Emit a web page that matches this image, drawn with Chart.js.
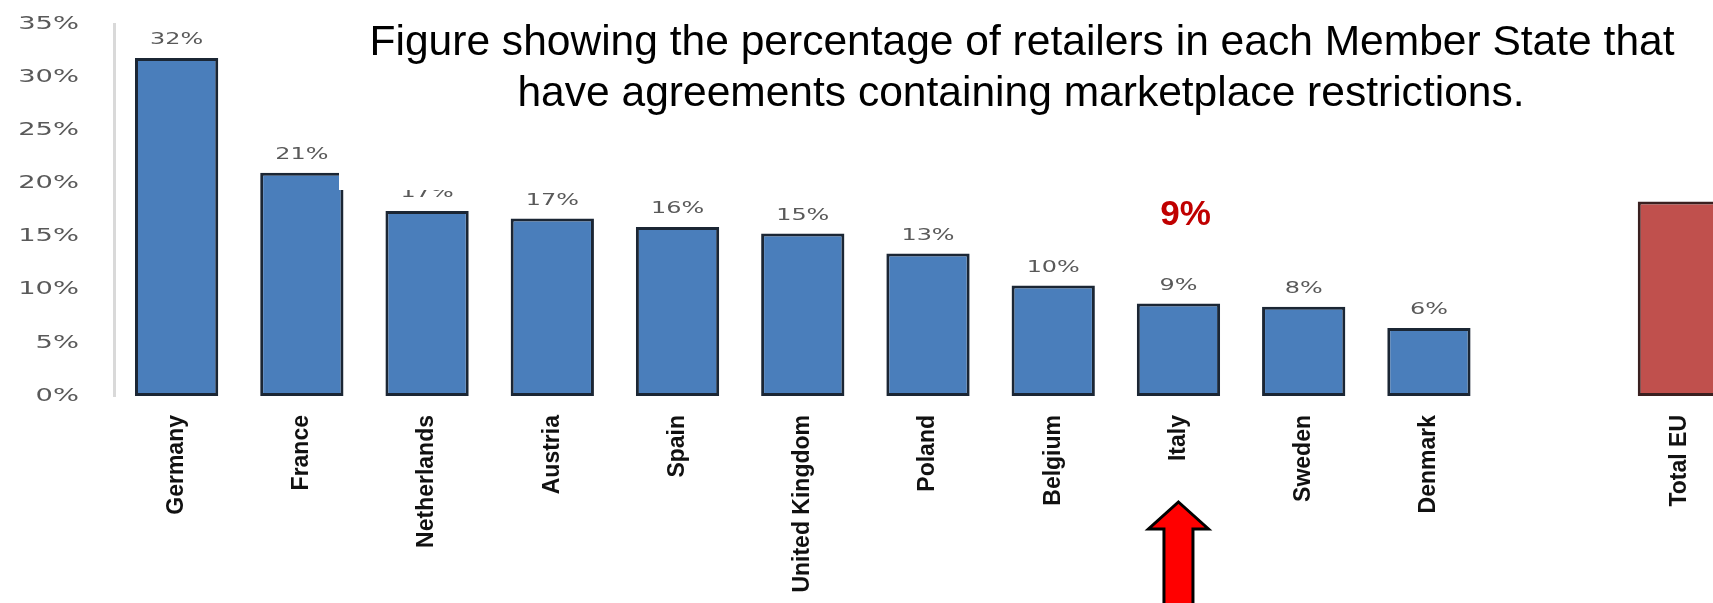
<!DOCTYPE html>
<html>
<head>
<meta charset="utf-8">
<script src="https://cdn.jsdelivr.net/npm/chart.js@4.4.1/dist/chart.umd.min.js"></script>
<style>
  html, body { margin: 0; padding: 0; background: #fff; overflow: hidden; }
  #wrap { position: relative; width: 1760px; height: 603px; }
</style>
</head>
<body>
<div id="wrap"><canvas id="retailChart"></canvas></div>
<script>
// member states, with an empty slot before the EU total
var countries = ['Germany', 'France', 'Netherlands', 'Austria', 'Spain', 'United Kingdom',
                 'Poland', 'Belgium', 'Italy', 'Sweden', 'Denmark', '', 'Total EU'];
// share of retailers with marketplace restrictions (%)
var shares = [31.8, 21.0, 17.4, 16.7, 15.9, 15.3, 13.4, 10.4, 8.7, 8.4, 6.4, null, 18.3];
var yTicks = [0, 5, 10, 15, 20, 25, 30, 35];
var titleLines = [
    'Figure showing the percentage of retailers in each Member State that',
    'have agreements containing marketplace restrictions.'
];
var highlighted = 'Italy';

var fills = countries.map(function (c) { return c === 'Total EU' ? '#c0504d' : '#4a7ebb'; });
var borders = countries.map(function (c) { return c === 'Total EU' ? '#3a2020' : '#1b2634'; });

function pct(v) { return Math.round(v) + '%'; }

// draws text squeezed/stretched along x
function wideText(ctx, text, x, y, sx) {
    ctx.save();
    ctx.translate(x, y);
    ctx.scale(sx, 1);
    ctx.fillText(text, 0, 0);
    ctx.restore();
}

var valueLabels = {
    id: 'valueLabels',
    afterDatasetsDraw: function (chart) {
        var ctx = chart.ctx;
        var meta = chart.getDatasetMeta(0);
        ctx.save();
        ctx.font = '16.5px "DejaVu Sans"';
        ctx.fillStyle = '#595959';
        ctx.textAlign = 'center';
        ctx.textBaseline = 'middle';
        meta.data.forEach(function (bar, i) {
            if (shares[i] == null) return;
            wideText(ctx, pct(shares[i]), bar.x, bar.y - 18, 1.45);
        });
        ctx.restore();
    }
};

var overlay = {
    id: 'overlay',
    afterDraw: function (chart) {
        var ctx = chart.ctx;
        var x = chart.scales.x, y = chart.scales.y, area = chart.chartArea;

        // y tick labels
        ctx.save();
        ctx.font = '18px "DejaVu Sans"';
        ctx.fillStyle = '#595959';
        ctx.textAlign = 'right';
        ctx.textBaseline = 'middle';
        y.ticks.forEach(function (t) {
            wideText(ctx, t.value + '%', area.left - 35, y.getPixelForValue(t.value), 1.52);
        });
        ctx.restore();

        // title box
        ctx.save();
        ctx.fillStyle = '#fff';
        ctx.fillRect(339, 0, 1366, 190);
        ctx.font = '42px "Liberation Sans", Arial, sans-serif';
        ctx.fillStyle = '#000';
        ctx.textAlign = 'center';
        ctx.textBaseline = 'alphabetic';
        var sx = 1305 / ctx.measureText(titleLines[0]).width;
        wideText(ctx, titleLines[0], 1022, 55, sx);
        wideText(ctx, titleLines[1], 1021, 106, sx);
        ctx.restore();

        // callout for the highlighted country
        var idx = countries.indexOf(highlighted);
        var cx = x.getPixelForValue(idx);
        ctx.save();
        ctx.font = 'bold 35px "Liberation Sans", Arial, sans-serif';
        ctx.fillStyle = '#c00000';
        ctx.textAlign = 'center';
        ctx.textBaseline = 'middle';
        ctx.fillText(pct(shares[idx]), cx + 7, y.getPixelForValue(17));

        var tip = area.bottom + 106;
        ctx.beginPath();
        ctx.moveTo(cx, tip);
        ctx.lineTo(cx + 30, tip + 27);
        ctx.lineTo(cx + 14.5, tip + 27);
        ctx.lineTo(cx + 14.5, chart.height + 10);
        ctx.lineTo(cx - 14.5, chart.height + 10);
        ctx.lineTo(cx - 14.5, tip + 27);
        ctx.lineTo(cx - 30, tip + 27);
        ctx.closePath();
        ctx.fillStyle = '#ff0000';
        ctx.fill();
        ctx.lineWidth = 3;
        ctx.strokeStyle = '#000';
        ctx.stroke();
        ctx.restore();
    }
};

var chart = new Chart(document.getElementById('retailChart'), {
    type: 'bar',
    data: {
        labels: countries,
        datasets: [{
            data: shares,
            backgroundColor: fills,
            borderColor: borders,
            borderWidth: 3,
            borderSkipped: false,
            barPercentage: 1,
            categoryPercentage: 0.665
        }]
    },
    options: {
        responsive: true,
        maintainAspectRatio: false,
        animation: false,
        layout: { padding: { top: 24, right: 18, left: 0, bottom: 0 } },
        plugins: {
            legend: { display: false },
            tooltip: { enabled: false }
        },
        scales: {
            x: {
                grid: { display: false },
                border: { display: false },
                ticks: {
                    maxRotation: 90,
                    minRotation: 90,
                    autoSkip: false,
                    padding: 11,
                    color: '#111',
                    font: { family: '"Liberation Sans", Arial, sans-serif', size: 23, weight: 'bold' }
                },
                afterFit: function (s) { s.height = 207; }
            },
            y: {
                min: 0,
                max: 35,
                grid: { display: false },
                border: { display: true, color: '#d9d9d9', width: 3 },
                ticks: { display: false },
                afterBuildTicks: function (s) {
                    s.ticks = yTicks.map(function (v) { return { value: v }; });
                },
                afterFit: function (s) { s.width = 114; }
            }
        }
    },
    plugins: [valueLabels, overlay]
});
</script>
</body>
</html>
